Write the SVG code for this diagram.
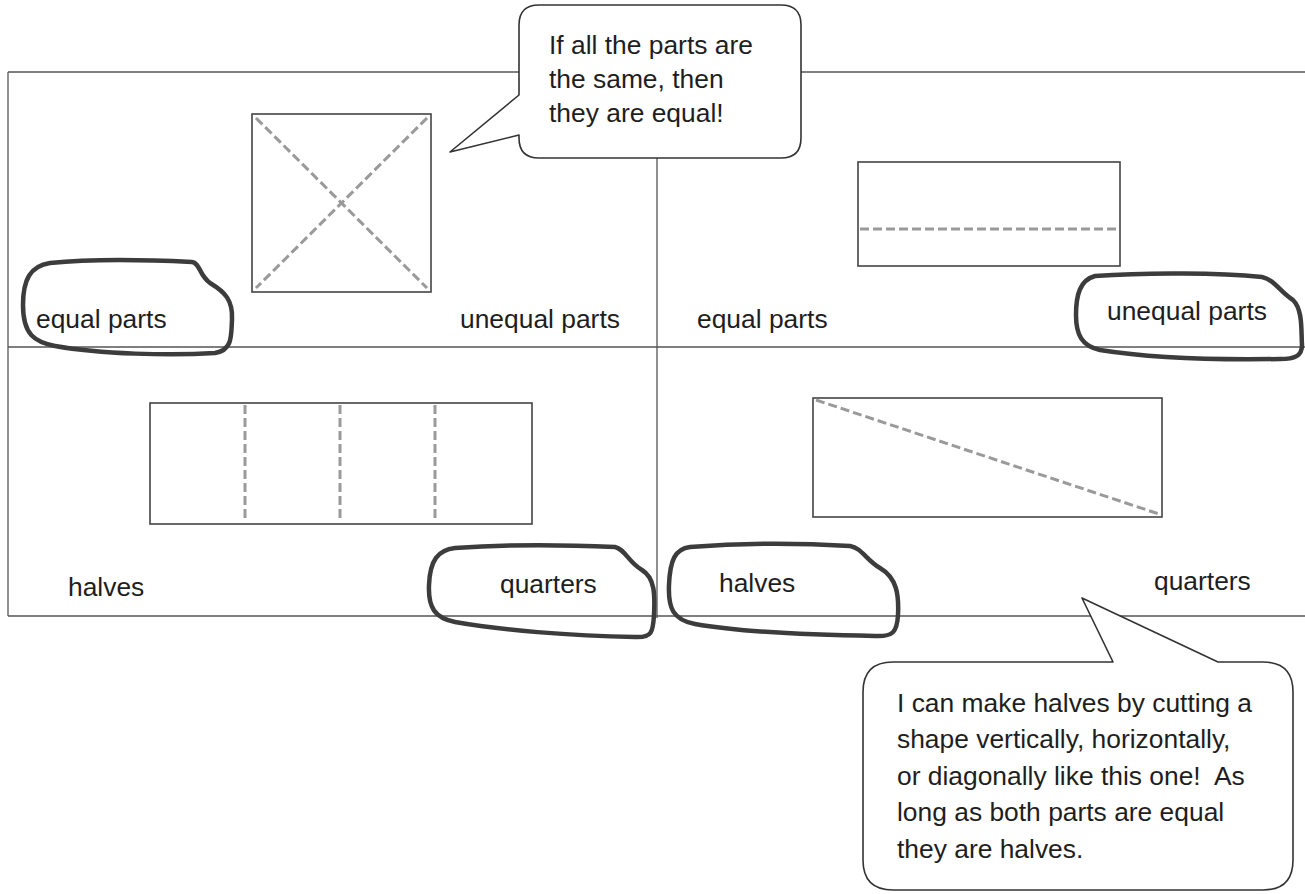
<svg xmlns="http://www.w3.org/2000/svg" width="1305" height="894" viewBox="0 0 1305 894">
<style>
.frame{stroke:#555;stroke-width:1.3;fill:none}
.shape{stroke:#444;stroke-width:1.6;fill:none}
.cut{stroke:#9a9a9a;stroke-width:3;stroke-dasharray:9 4;fill:none}
.blob{stroke:#3c3c3c;stroke-width:4.5;fill:none;stroke-linejoin:round}
.callout{stroke:#333;stroke-width:1.6;fill:#fff;stroke-linejoin:round}
text{font-family:"Liberation Sans",Arial,sans-serif;font-size:26.4px;fill:#1e1e1e}
</style>
<rect width="1305" height="894" fill="#fff"/>
<g id="frame">
<line class="frame" x1="8" y1="72" x2="1305" y2="72"/>
<line class="frame" x1="8" y1="72" x2="8" y2="616"/>
<line class="frame" x1="8" y1="347" x2="1305" y2="347"/>
<line class="frame" x1="8" y1="616" x2="1305" y2="616"/>
<line class="frame" x1="657" y1="150" x2="657" y2="618"/>
</g>
<g id="square-x">
<rect class="shape" x="252" y="114" width="179" height="178"/>
<line class="cut" x1="256" y1="118" x2="427" y2="288"/>
<line class="cut" x1="427" y1="118" x2="256" y2="288"/>
</g>
<g id="rect-horizontal">
<rect class="shape" x="858" y="162" width="262" height="104"/>
<line class="cut" x1="860" y1="229" x2="1118" y2="229"/>
</g>
<g id="rect-quarters">
<rect class="shape" x="150" y="403" width="382" height="121"/>
<line class="cut" x1="245" y1="405" x2="245" y2="522"/>
<line class="cut" x1="340" y1="405" x2="340" y2="522"/>
<line class="cut" x1="435" y1="405" x2="435" y2="522"/>
</g>
<g id="rect-diagonal">
<rect class="shape" x="813" y="398" width="349" height="119"/>
<line class="cut" x1="816" y1="400" x2="1159" y2="514"/>
</g>
<g id="labels">
<text x="36" y="328">equal parts</text>
<text x="460" y="328">unequal parts</text>
<text x="697" y="328">equal parts</text>
<text x="1107" y="320">unequal parts</text>
<text x="68" y="596">halves</text>
<text x="500" y="593">quarters</text>
<text x="719" y="592">halves</text>
<text x="1154" y="590">quarters</text>
</g>
<g id="circles">
<path class="blob" d="M50,263 C90,259 150,260 192,262 C200,263 199,275 210,283 C225,292 233,300 232,320 C231,335 233,350 215,353 C170,356 100,354 55,346 C35,342 23,335 23,305 C23,280 30,266 50,263 Z"/>
<path class="blob" d="M1095,276 C1150,272 1220,273 1262,277 C1275,280 1280,292 1293,300 C1303,310 1301,330 1302,345 C1302,356 1295,359 1280,359 C1220,360 1150,358 1100,350 C1082,346 1076,335 1076,315 C1076,295 1080,280 1095,276 Z"/>
<path class="blob" d="M455,548 C510,544 570,545 615,547 C625,549 628,562 642,570 C655,578 655,595 654,615 C653,632 652,638 635,637 C570,636 500,630 455,622 C435,618 428,608 429,585 C430,560 438,550 455,548 Z"/>
<path class="blob" d="M690,547 C740,543 800,543 850,546 C862,548 866,560 880,568 C897,578 899,595 898,615 C897,632 893,637 875,636 C810,635 740,632 695,624 C673,620 668,608 669,585 C670,560 675,549 690,547 Z"/>
</g>
<g id="callout-top">
<path class="callout" d="M541,5 H781 Q801,5 801,25 V138 Q801,158 781,158 H539 Q519,158 519,138 V135 L450,152 L519,95 V25 Q519,5 539,5 Z"/>
<text x="549" y="54">If all the parts are</text>
<text x="549" y="88">the same, then</text>
<text x="549" y="122">they are equal!</text>
</g>
<g id="callout-bottom">
<path class="callout" d="M893,662 H1113 L1082,598 L1218,662 H1263 Q1293,662 1293,692 V860 Q1293,890 1263,890 H893 Q863,890 863,860 V692 Q863,662 893,662 Z"/>
<text x="897" y="712">I can make halves by cutting a</text>
<text x="897" y="748">shape vertically, horizontally,</text>
<text x="897" y="785">or diagonally like this one!&#160; As</text>
<text x="897" y="821">long as both parts are equal</text>
<text x="897" y="858">they are halves.</text>
</g>
</svg>
